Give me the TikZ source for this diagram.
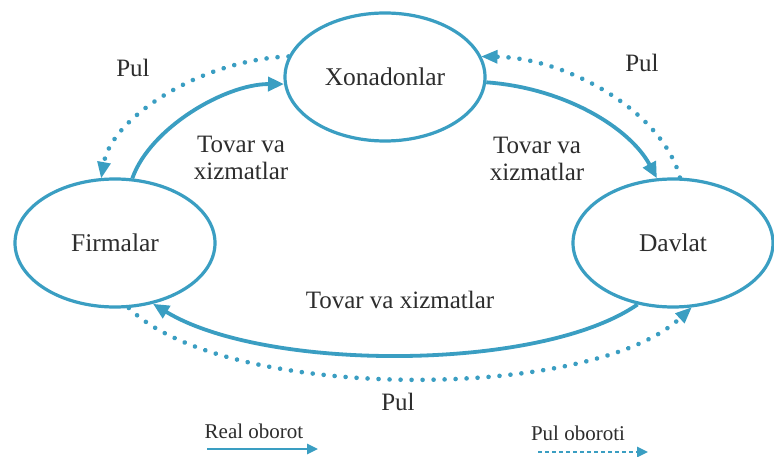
\documentclass[tikz,border=0pt]{standalone}
\usepackage{fontspec}
\setmainfont{Liberation Serif}
\usetikzlibrary{shapes.geometric,arrows.meta}
\definecolor{flow}{RGB}{58,158,194}
\definecolor{txt}{RGB}{45,45,45}
\tikzset{
  sector/.style={ellipse,draw=flow,line width=3.2pt,minimum width=200pt,minimum height=128pt,text=txt,font=\fontsize{25.5}{28}\selectfont,inner sep=0pt},
  lbl/.style={text=txt,font=\fontsize{25}{27}\selectfont,align=center,inner sep=0pt},
  leg/.style={text=txt,font=\fontsize{21}{24}\selectfont,inner sep=0pt},
  realflow/.style={draw=flow,line width=3.8pt,-{Triangle[length=16pt,width=14pt]},fill=none},
  moneyflow/.style={draw=flow,line width=4.6pt,line cap=round,dash pattern=on 0.01pt off 11pt,-{Triangle[length=16pt,width=14pt,line width=0pt]}},
}
\begin{document}
\begin{tikzpicture}[x=1pt,y=-1pt]
\useasboundingbox[fill=white] (0,0) rectangle (774,457);
\node[sector] (X) at (385,77) {Xonadonlar};
\node[sector] (F) at (115,243) {Firmalar};
\node[sector] (D) at (673,243) {Davlat};

% real flows
\draw[realflow] (F.75) .. controls (150,128) and (225,84) .. (X.184);
\draw[realflow] (X.-3) .. controls (565,88) and (630,128) .. (D.104);
\draw[realflow] (D.240) .. controls (540,372) and (265,372) .. (F.302);

% money flows
\draw[moneyflow] (X.168) .. controls (200,60) and (112,118) .. (F.102);
\draw[moneyflow] (D.84) .. controls (662,110) and (565,58) .. (X.12);
\draw[moneyflow] (F.282) .. controls (225,402) and (590,402) .. (D.286);

% labels
\node[lbl] (l1) at (133,68) {Pul};
\node[lbl] (l2) at (241,158) {Tovar va\\xizmatlar};
\node[lbl] (l3) at (537,159) {Tovar va\\xizmatlar};
\node[lbl] (l4) at (642,63) {Pul};
\node[lbl] (l5) at (400,300) {Tovar va xizmatlar};
\node[lbl] (l6) at (398,402) {Pul};

% legend
\node[leg] (g1) at (254,431) {Real oborot};
\node[leg] (g2) at (578,433) {Pul oboroti};
\coordinate (r1) at (207,449);
\coordinate (r2) at (318,449);
\coordinate (m1) at (538,452);
\coordinate (m2) at (648,452);
\draw[draw=flow,line width=2.6pt,-{Triangle[length=11pt,width=10pt]}] (r1) -- (r2);
\draw[draw=flow,line width=2.6pt,dash pattern=on 4pt off 3pt,-{Triangle[length=11pt,width=10pt]}] (m1) -- (m2);
\end{tikzpicture}
\end{document}
